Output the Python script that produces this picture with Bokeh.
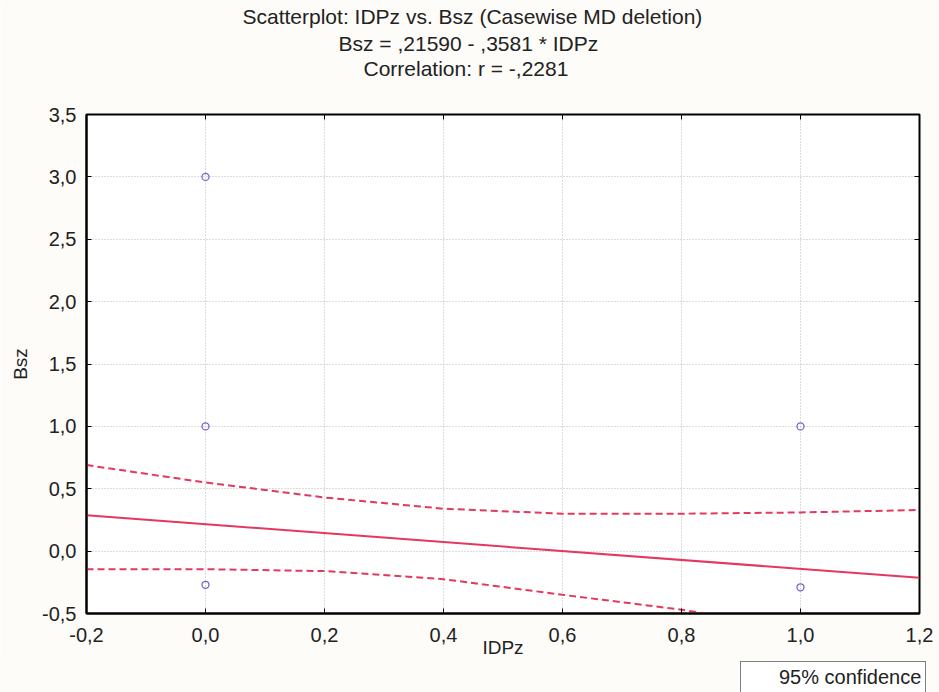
from bokeh.plotting import figure
from bokeh.models import (Title, LinearAxis, CustomJSTickFormatter, FixedTicker,
                          Range1d, Legend, LegendItem, Spacer)
from bokeh.layouts import column, row
from bokeh.embed import file_html
from bokeh.resources import INLINE

# ---- data ----
title_lines = ["Scatterplot: IDPz vs. Bsz (Casewise MD deletion)",
               "Bsz = ,21590 - ,3581  * IDPz",
               "Correlation: r = -,2281"]
x_label = "IDPz"
y_label = "Bsz"
legend_label = "95% confidence"

pts_x = [0.0, 0.0, 0.0, 1.0, 1.0]
pts_y = [3.0, 1.0, -0.27, 1.0, -0.29]

intercept = 0.21590
slope = -0.3581
fit_x = [-0.2, 1.2]

band_x = [-0.2, 0.0, 0.2, 0.4, 0.6, 0.8, 1.0, 1.2]
band_upper = [0.69, 0.55, 0.43, 0.34, 0.30, 0.30, 0.31, 0.33]
band_lower = [-0.145, -0.145, -0.16, -0.225, -0.35, -0.47, -0.62, -0.78]

x_ticks = [-0.2, 0.0, 0.2, 0.4, 0.6, 0.8, 1.0, 1.2]
y_ticks = [-0.5, 0.0, 0.5, 1.0, 1.5, 2.0, 2.5, 3.0, 3.5]

fit_y = [intercept + slope * v for v in fit_x]

RED = "#e3385f"
BLUE = "#6b66d6"
FONT = "Liberation Sans"
TXT = "#222222"
PAGE = "#fdfcf9"

p = figure(width=939, height=660, output_backend="svg", toolbar_location=None,
           x_range=Range1d(-0.2, 1.2), y_range=Range1d(-0.5, 3.5),
           min_border_left=86, min_border_right=20, min_border_top=0, min_border_bottom=0,
           background_fill_color="white", border_fill_color=PAGE,
           x_axis_label=x_label, y_axis_label=y_label)

p.outline_line_color = "black"
p.outline_line_width = 2

fmt = CustomJSTickFormatter(code="return tick.toFixed(1).replace('.', ',');")
for ax in p.xaxis + p.yaxis:
    ax.formatter = fmt
    ax.major_label_text_font = FONT
    ax.major_label_text_font_size = "20px"
    ax.major_label_text_color = TXT
    ax.axis_label_text_font = FONT
    ax.axis_label_text_font_size = "19px"
    ax.axis_label_text_font_style = "normal"
    ax.axis_label_text_color = TXT
    ax.major_tick_in = 5
    ax.major_tick_out = 0
    ax.minor_tick_line_color = None
    ax.axis_line_color = "black"
    ax.axis_line_width = 2
    ax.major_tick_line_color = "black"
p.xaxis.ticker = FixedTicker(ticks=x_ticks)
p.yaxis.ticker = FixedTicker(ticks=y_ticks)
p.xaxis.major_label_standoff = 14
p.xaxis.axis_label_standoff = -8
p.yaxis.major_label_standoff = 10
p.yaxis.axis_label_standoff = 8

blank = CustomJSTickFormatter(code="return '';")
for side, tks in (("right", y_ticks), ("above", x_ticks)):
    a = LinearAxis(ticker=FixedTicker(ticks=tks), formatter=blank,
                   major_tick_in=5, major_tick_out=0, minor_tick_line_color=None,
                   axis_line_color=None, major_label_standoff=0,
                   major_label_text_font_size="1px")
    p.add_layout(a, side)

# invisible spacer between the titles and the frame
spacer = LinearAxis(ticker=FixedTicker(ticks=x_ticks), formatter=blank,
                    major_tick_in=0, major_tick_out=35, major_tick_line_alpha=0,
                    minor_tick_line_color=None, axis_line_color=None,
                    major_label_standoff=0, major_label_text_font_size="1px")
p.add_layout(spacer, "above")

for g in p.xgrid + p.ygrid:
    g.ticker = FixedTicker(ticks=x_ticks if g in p.xgrid else y_ticks)
    g.grid_line_color = "#b8b8b8"
    g.grid_line_dash = "1 2"
    g.grid_line_width = 1

# titles (first added is nearest the plot)
title_offsets = [156, 252, 277]
title_standoffs = [4, 0, 0]
for t, off, so in reversed(list(zip(title_lines, title_offsets, title_standoffs))):
    p.add_layout(Title(text=t, align="left", offset=off, text_font=FONT,
                       text_font_size="21px", text_font_style="normal", text_color=TXT,
                       standoff=so), "above")

upper_r = p.line(band_x, band_upper, line_color=RED, line_width=2, line_dash="7 4")
lower_r = p.line(band_x, band_lower, line_color=RED, line_width=2, line_dash="7 4")
fit_r = p.line(fit_x, fit_y, line_color=RED, line_width=2)
pts_r = p.scatter(pts_x, pts_y, marker="circle", size=7, fill_color=None,
                  line_color=BLUE, line_width=1.3)

# small strip under the chart that carries the legend (bottom right, as in the reference)
lf = figure(width=200, height=32, output_backend="svg", toolbar_location=None,
            x_range=Range1d(0, 1), y_range=Range1d(0, 1),
            min_border=0, min_border_left=0, min_border_right=0,
            min_border_top=0, min_border_bottom=0,
            background_fill_color=PAGE, border_fill_color=PAGE)
lf.axis.visible = False
lf.grid.visible = False
lf.outline_line_color = None
leg_line = lf.line(x=[], y=[], line_color=RED, line_width=2)
leg_pts = lf.scatter(x=[], y=[], marker="circle", size=7, fill_color=None,
                     line_color=BLUE, line_width=1.3)
legend = Legend(items=[LegendItem(label=legend_label, renderers=[leg_line, leg_pts])],
                location="top_left", label_text_font=FONT, label_text_font_size="20px",
                label_text_color=TXT, border_line_color="black", border_line_width=1.5,
                background_fill_color="white", background_fill_alpha=1,
                glyph_width=30, glyph_height=20, padding=4,
                margin=1, spacing=0, label_standoff=4, label_height=20)
lf.add_layout(legend, "center")

layout = column(p, row(Spacer(width=739, height=32, styles={"background": PAGE}), lf,
                       spacing=0), spacing=0)

open("out.html", "w").write(file_html(layout, INLINE))
